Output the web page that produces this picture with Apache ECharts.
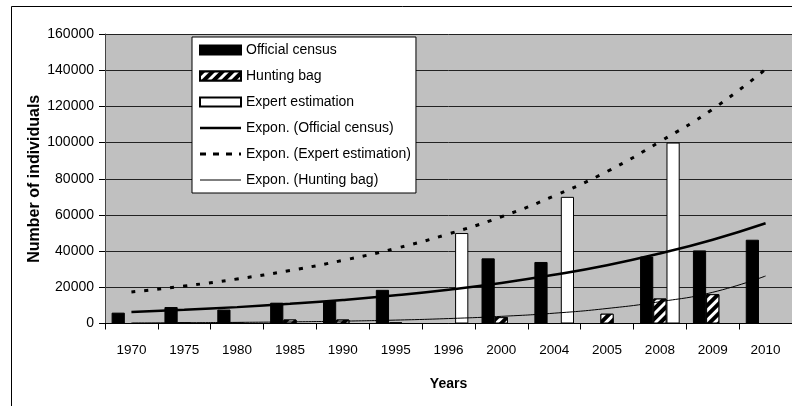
<!DOCTYPE html>
<html>
<head>
<meta charset="utf-8">
<script src="https://cdn.jsdelivr.net/npm/echarts@6/dist/echarts.min.js"></script>
<style>
html,body{margin:0;padding:0;background:#fff;}
#chart{width:792px;height:406px;}
</style>
</head>
<body>
<div id="chart"></div>
<script>
const categories = ['1970','1975','1980','1985','1990','1995','1996','2000','2004','2005','2008','2009','2010'];
const officialCensus   = [6000, 9100, 7700, 11500, 12400, 18600, null, 36000, 34000, null, 37000, 40400, 46300];
const huntingBag       = [null, 400, 300, 2200, 2200, 500, null, 3500, null, 5400, 13800, 16200, null];
const expertEstimation = [null, null, null, null, null, null, 50000, null, 70000, null, 100000, null, null];
const trendOfficial = [6300, 7550, 9050, 10850, 13000, 15600, 18700, 22400, 26900, 32200, 38700, 46300, 55400];
const trendExpert   = [17400, 20700, 24600, 29300, 34900, 41500, 49500, 59000, 70500, 84000, 100500, 118500, 140500];
const trendHunting  = [300, 430, 620, 900, 1300, 1880, 2730, 3950, 5700, 8300, 12050, 17250, 26250];
const yTicks = [0, 20000, 40000, 60000, 80000, 100000, 120000, 140000, 160000];

const FONT = "'Liberation Sans', Arial, sans-serif";
const chart = echarts.init(document.getElementById('chart'), null, {renderer: 'canvas'});
const option = {
  animation: false,
  backgroundColor: '#fff',
  textStyle: {fontFamily: FONT, color: '#000'},
  graphic: [{
    type: 'rect', silent: true, z: -1,
    shape: {x: 11.5, y: 6.5, width: 900, height: 500},
    style: {fill: 'none', stroke: '#000', lineWidth: 1}
  }],
  grid: {
    left: 105, top: 34, right: -4, bottom: 82.5,
    show: true, backgroundColor: '#c0c0c0', borderWidth: 0, containLabel: false
  },
  legend: {
    orient: 'vertical',
    left: 192, top: 37,
    width: 222,
    backgroundColor: '#fff',
    borderColor: '#000', borderWidth: 1, borderRadius: 0,
    padding: [5, 5, 5, 7],
    itemWidth: 41, itemHeight: 9, itemGap: 10,
    symbolKeepAspect: true,
    textStyle: {fontFamily: FONT, fontSize: 14, color: '#000', lineHeight: 16},
    data: [
      {name: 'Official census', icon: 'rect'},
      {name: 'Hunting bag', icon: 'rect'},
      {name: 'Expert estimation', icon: 'rect'},
      {name: 'Expon. (Official census)', icon: 'path://M0,0H41V2.5H0Z'},
      {name: 'Expon. (Expert estimation)', icon: 'path://M0,0H6V3H0Z M13,0H19V3H13Z M26,0H32V3H26Z M39,0H41V3H39Z'},
      {name: 'Expon. (Hunting bag)', icon: 'path://M0,0H41V1H0Z'}
    ]
  },
  xAxis: {
    type: 'category',
    data: categories,
    boundaryGap: true,
    name: 'Years', nameLocation: 'middle', nameGap: 54, nameMoveOverlap: false,
    nameTextStyle: {fontFamily: FONT, fontSize: 14, fontWeight: 'bold', color: '#000'},
    axisLine: {lineStyle: {color: '#000', width: 1}},
    axisTick: {show: true, alignWithLabel: false, length: 6, lineStyle: {color: '#000'}},
    axisLabel: {fontFamily: FONT, fontSize: 13.5, color: '#000', margin: 20, interval: 0},
    splitLine: {show: false}
  },
  yAxis: {
    type: 'value',
    min: yTicks[0], max: yTicks[yTicks.length - 1], interval: 20000,
    name: 'Number of individuals', nameLocation: 'middle', nameGap: 62, nameRotate: 90,
    nameMoveOverlap: false,
    nameTextStyle: {fontFamily: FONT, fontSize: 16, fontWeight: 'bold', color: '#000'},
    axisLine: {show: true, lineStyle: {color: '#444', width: 1}},
    axisTick: {show: true, length: 6, lineStyle: {color: '#000'}},
    axisLabel: {fontFamily: FONT, fontSize: 14, color: '#000', margin: 11,
                formatter: function (v) { return String(v); }},
    splitLine: {show: true, lineStyle: {color: '#222', width: 1}}
  },
  series: [
    {
      name: 'Official census', type: 'bar', data: officialCensus,
      barGap: '0%', barCategoryGap: '25%',
      itemStyle: {color: '#000', borderColor: '#000', borderWidth: 1}
    },
    {
      name: 'Hunting bag', type: 'bar', data: huntingBag,
      barGap: '0%', barCategoryGap: '25%',
      itemStyle: {
        color: '#fff', borderColor: '#000', borderWidth: 1,
        decal: {symbol: 'rect', symbolSize: 1, dashArrayX: [[1, 0]], dashArrayY: [4, 3],
                rotation: -Math.PI / 4, color: '#000', backgroundColor: '#fff'}
      }
    },
    {
      name: 'Expert estimation', type: 'bar', data: expertEstimation,
      barGap: '0%', barCategoryGap: '25%',
      itemStyle: {color: '#fff', borderColor: '#000', borderWidth: 1}
    },
    {
      name: 'Expon. (Official census)', type: 'line', data: trendOfficial,
      symbol: 'none', smooth: true, z: 5,
      lineStyle: {color: '#000', width: 2.5, type: 'solid'},
      itemStyle: {color: '#000'}
    },
    {
      name: 'Expon. (Expert estimation)', type: 'line', data: trendExpert,
      symbol: 'none', smooth: true, z: 5,
      lineStyle: {color: '#000', width: 3, type: [4, 9]},
      itemStyle: {color: '#000'}
    },
    {
      name: 'Expon. (Hunting bag)', type: 'line', data: trendHunting,
      symbol: 'none', smooth: true, z: 5,
      lineStyle: {color: '#000', width: 1, type: 'solid'},
      itemStyle: {color: '#000'}
    }
  ]
};
chart.setOption(option);
</script>
</body>
</html>
